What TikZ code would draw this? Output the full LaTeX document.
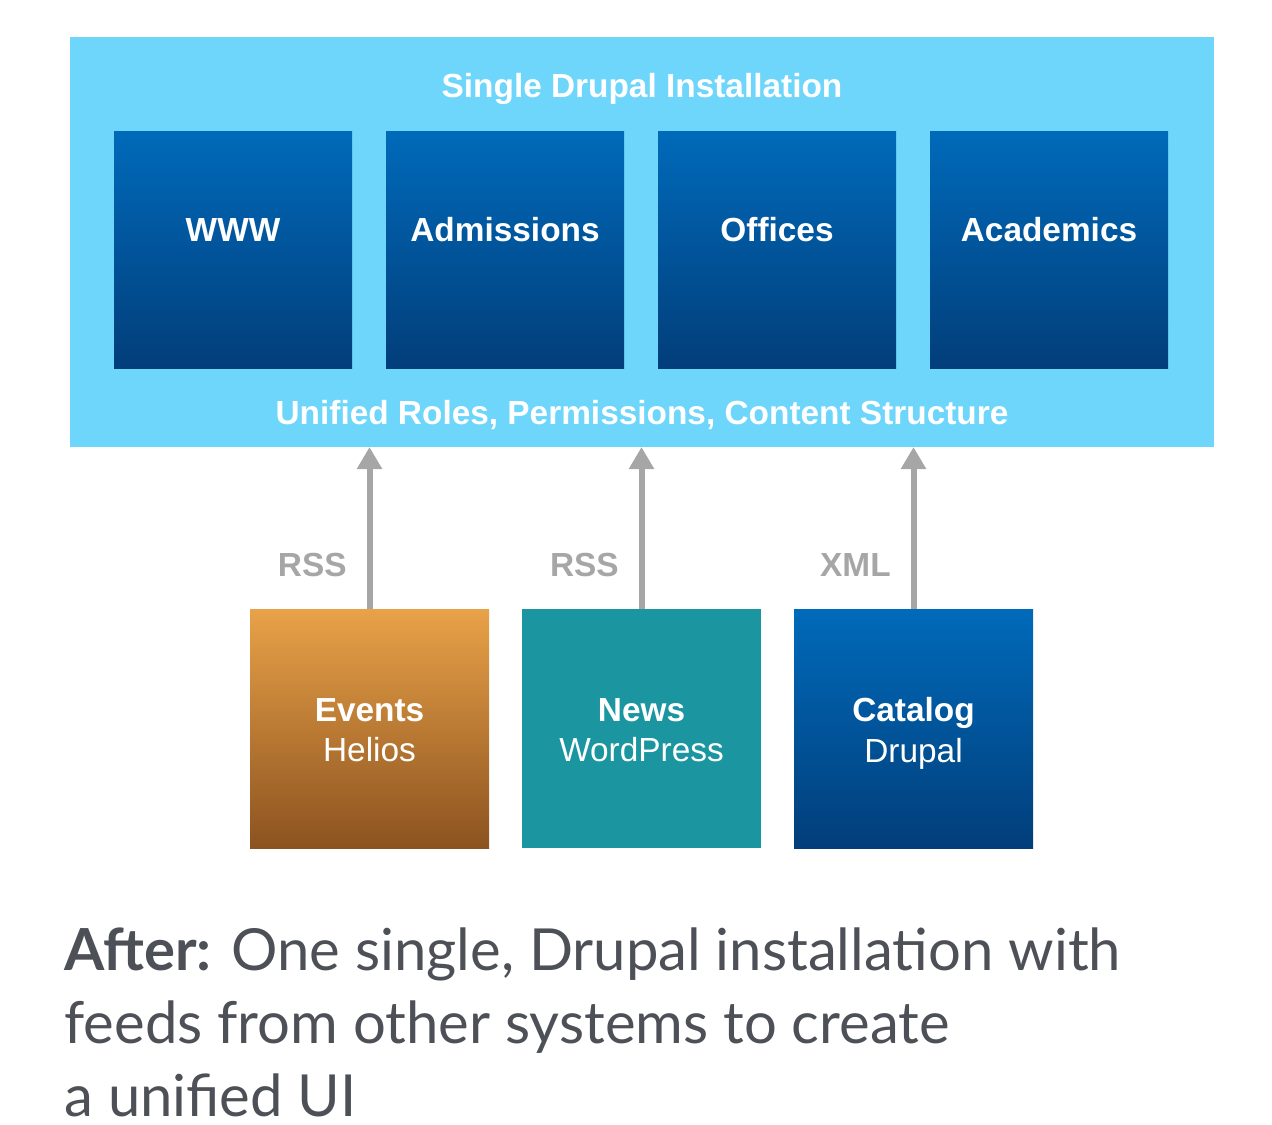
\documentclass[tikz,border=0pt]{standalone}
\usepackage{fontspec}
\setmainfont{Liberation Sans}
\newfontfamily\pieFont{Lato}
\usepackage{tikz}
\usetikzlibrary{arrows.meta, positioning, calc}
\definecolor{celeste}{RGB}{110,214,250}
\definecolor{azulArriba}{RGB}{0,106,186}
\definecolor{azulAbajo}{RGB}{2,62,122}
\definecolor{naranjaArriba}{RGB}{233,162,72}
\definecolor{naranjaAbajo}{RGB}{140,83,32}
\definecolor{verdeAzul}{RGB}{27,150,160}
\definecolor{grisFlecha}{RGB}{166,166,166}
\definecolor{grisTexto}{RGB}{77,80,86}

\begin{document}
\begin{tikzpicture}[
  font=\fontsize{19}{22}\selectfont,
  instalacion/.style={fill=celeste, minimum width=22.88cm, minimum height=8.2cm,
                      inner sep=0pt, outer sep=0pt},
  sitio/.style={top color=azulArriba, bottom color=azulAbajo,
                minimum width=4.76cm, minimum height=4.74cm, inner sep=0pt,
                outer sep=0pt},
  nombre/.style={text=white, yshift=0.39cm, font=\fontsize{19}{22}\selectfont\bfseries},
  fuente/.style={minimum width=4.78cm, minimum height=4.78cm, inner sep=0pt,
                 outer sep=0pt},
  sistema/.style={text=white, align=center, yshift=-0.1cm},
  titulo/.style={text=white, font=\fontsize{19}{22}\selectfont\bfseries},
  flecha/.style={-{Triangle[length=0.44cm, width=0.48cm]}, draw=grisFlecha,
                 line width=0.12cm},
  formato/.style={left=0.28cm, text=grisFlecha,
                  font=\fontsize{19}{22}\selectfont\bfseries}
]
\useasboundingbox (0,0) rectangle (25.44,-22.48);

\node[instalacion] (drupal) at (12.84,-4.84) {};
\node[titulo] (tit) at (12.84,-1.78) {Single Drupal Installation};
\node[titulo] (roles) at (12.84,-8.30) {Unified Roles, Permissions, Content Structure};

% Sitios dentro de la instalacion unica
\node[sitio, label={[nombre]center:WWW}] (www) at (4.66,-4.99) {};
\node[sitio, right=0.68cm of www, label={[nombre]center:Admissions}] (adm) {};
\node[sitio, right=0.68cm of adm, label={[nombre]center:Offices}] (ofi) {};
\node[sitio, right=0.68cm of ofi, label={[nombre]center:Academics}] (aca) {};

% Sistemas externos que alimentan a Drupal
\node[fuente, top color=naranjaArriba, bottom color=naranjaAbajo,
      label={[sistema]center:\textbf{Events}\\[1pt]Helios\vphantom{p}}] (eve) at (7.39,-14.57) {};
\node[fuente, fill=verdeAzul, right=0.66cm of eve,
      label={[sistema]center:\textbf{News}\\[1pt]WordPress\vphantom{p}}] (new) {};
\node[fuente, top color=azulArriba, bottom color=azulAbajo, right=0.66cm of new,
      label={[sistema]center:\textbf{Catalog}\\[1pt]Drupal}] (cat) {};

\draw[flecha] (eve.north) -- node[formato, pos=0.27]{RSS} (eve.north |- drupal.south);
\draw[flecha] (new.north) -- node[formato, pos=0.27]{RSS} (new.north |- drupal.south);
\draw[flecha] (cat.north) -- node[formato, pos=0.27]{XML} (cat.north |- drupal.south);

\node[anchor=base west, text=grisTexto, align=left, inner sep=0pt,
      font=\pieFont\fontsize{33}{41.5}\selectfont] (pie) at (1.28,-22.32)
  {\textbf{After:} One single, Drupal installation with\\
   feeds from other systems to create\\
   a unified UI};

\end{tikzpicture}
\end{document}
